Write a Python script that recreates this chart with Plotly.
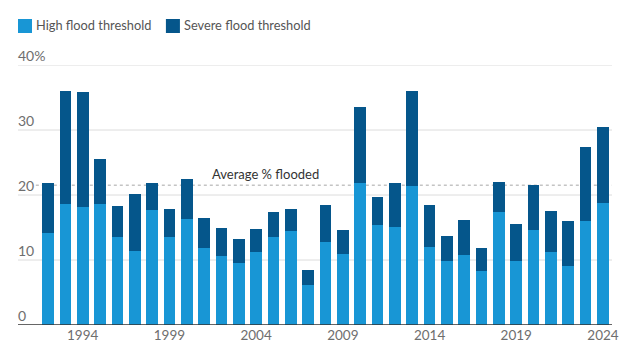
import plotly.graph_objects as go

years = list(range(1992, 2025))
high = [14.1, 18.6, 18.2, 18.6, 13.5, 11.4, 17.7, 13.5, 16.3, 11.9, 10.6, 9.6, 11.3, 13.6, 14.4, 6.1, 12.7,
        10.9, 21.9, 15.4, 15.1, 21.4, 12.0, 9.8, 10.8, 8.3, 17.4, 9.8, 14.6, 11.3, 9.1, 16.0, 18.8]
total = [21.9, 36.0, 35.9, 25.5, 18.3, 20.1, 21.8, 17.9, 22.4, 16.5, 14.9, 13.3, 14.7, 17.4, 17.8, 8.4, 18.4,
         14.6, 33.5, 19.7, 21.9, 36.0, 18.4, 13.7, 16.2, 11.8, 22.0, 15.5, 21.6, 17.6, 16.0, 27.4, 30.4]
severe = [round(t - h, 2) for t, h in zip(total, high)]
average = 21.5
tick_years = [1994, 1999, 2004, 2009, 2014, 2019, 2024]
y_ticks = [0, 10, 20, 30, 40]
y_tick_labels = ["0", "10", "20", "30", "40%"]
series_names = ["High flood threshold", "Severe flood threshold"]

LIGHT = "#1896d5"
DARK = "#05568b"
FONT = "Lato"

fig = go.Figure()
fig.add_trace(go.Bar(x=years, y=high, name=series_names[0], marker=dict(color=LIGHT, line_width=0)))
fig.add_trace(go.Bar(x=years, y=severe, name=series_names[1], marker=dict(color=DARK, line_width=0)))

shapes = []
for v in y_ticks[1:]:
    shapes.append(dict(type="line", xref="paper", x0=0, x1=1, yref="y", y0=v, y1=v,
                       line=dict(color="#dcdcdc", width=1), layer="below"))
shapes.append(dict(type="line", xref="paper", x0=0, x1=1, yref="y", y0=0, y1=0,
                   line=dict(color="#333333", width=1.3), layer="above"))
shapes.append(dict(type="line", xref="paper", x0=0.03, x1=1, yref="y", y0=average, y1=average,
                   line=dict(color="#c4c4c4", width=1.3, dash="dot"), layer="below"))

leg = [(0.0, series_names[0], LIGHT), (0.249, series_names[1], DARK)]
annotations = []
for x0, name, col in leg:
    shapes.append(dict(type="rect", xref="paper", yref="paper", x0=x0, x1=x0 + 0.0236,
                       y0=1.123, y1=1.177, fillcolor=col, line_width=0))
    annotations.append(dict(xref="paper", yref="paper", x=x0 + 0.0305, y=1.152, text=name,
                            showarrow=False, xanchor="left", yanchor="middle", xshift=-2,
                            font=dict(family=FONT, size=12.8, color="#555555")))

for v, lab in zip(y_ticks, y_tick_labels):
    annotations.append(dict(xref="paper", yref="y", x=0, y=v, text=lab, showarrow=False,
                            xanchor="left", yanchor="bottom", yshift=-1, xshift=-2,
                            font=dict(family=FONT, size=14, color="#6e6e6e")))

annotations.append(dict(xref="paper", yref="y", x=0.4175, y=average, text="Average % flooded",
                        showarrow=False, xanchor="center", yanchor="bottom", yshift=1,
                        font=dict(family=FONT, size=13, color="#333333")))

fig.update_layout(
    width=640, height=355,
    margin=dict(l=18, r=28, t=65, b=30),
    barmode="stack", bargap=0.33,
    plot_bgcolor="white", paper_bgcolor="white",
    showlegend=False,
    shapes=shapes, annotations=annotations,
    xaxis=dict(range=[1990.27, 2024.52], tickvals=tick_years, ticktext=[str(y) for y in tick_years],
               showgrid=False, zeroline=False, showline=False, ticks="",
               tickfont=dict(family=FONT, size=13.5, color="#6e6e6e")),
    yaxis=dict(range=[0, 40], showgrid=False, zeroline=False, showticklabels=False, fixedrange=True),
)

fig.write_html("out.html", config={"displayModeBar": False},
               post_script="document.body.style.margin='0';document.body.style.overflow='hidden';")
